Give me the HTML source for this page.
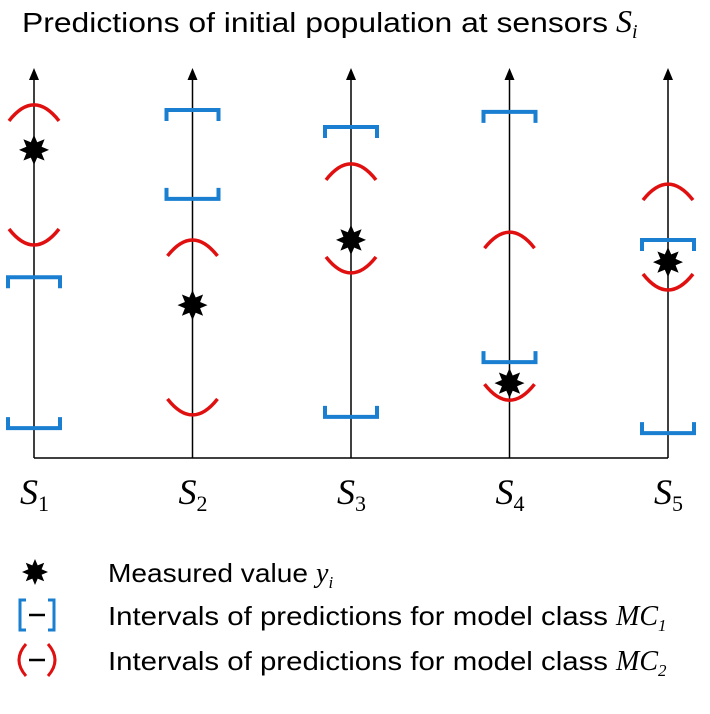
<!DOCTYPE html>
<html><head><meta charset="utf-8"><style>
body{margin:0;background:#fff;width:710px;height:714px;overflow:hidden}
svg{display:block}
.t{font-family:"Liberation Sans",sans-serif;fill:#000}
.m{font-family:"Liberation Serif",serif;font-style:italic;fill:#000}
</style></head><body>
<svg id="c" width="710" height="714">
<text class="t" x="22" y="32" font-size="28"><tspan textLength="586" lengthAdjust="spacingAndGlyphs">Predictions of initial population at sensors</tspan><tspan class="m" font-size="32" dx="8">S</tspan><tspan class="m" font-size="20" dy="6">i</tspan></text>
<g id="plot"></g>
<g>
 <g>
  <polygon id="lstar" fill="#000"/>
  <text class="t" x="108" y="582" font-size="26"><tspan textLength="200" lengthAdjust="spacingAndGlyphs">Measured value</tspan><tspan class="m" font-size="28" dx="8">y</tspan><tspan class="m" font-size="17" dy="6">i</tspan></text>
 </g>
 <g>
  <path d="M26,600 H20 V630 H26 M48,600 H54 V630 H48" stroke="#1a7fd0" stroke-width="3" fill="none"/>
  <line x1="29" y1="615" x2="45" y2="615" stroke="#000" stroke-width="2.5"/>
  <text class="t" x="108" y="625" font-size="26"><tspan textLength="500" lengthAdjust="spacingAndGlyphs">Intervals of predictions for model class</tspan><tspan class="m" font-size="28" dx="8">MC</tspan><tspan class="m" font-size="17" dy="6" font-style="normal">1</tspan></text>
 </g>
 <g>
  <path d="M26,644 Q12,660 26,676 M48,644 Q62,660 48,676" stroke="#e01010" stroke-width="3" fill="none"/>
  <line x1="29" y1="660" x2="45" y2="660" stroke="#000" stroke-width="2.5"/>
  <text class="t" x="108" y="670" font-size="26"><tspan textLength="500" lengthAdjust="spacingAndGlyphs">Intervals of predictions for model class</tspan><tspan class="m" font-size="28" dx="8">MC</tspan><tspan class="m" font-size="17" dy="6" font-style="normal">2</tspan></text>
 </g>
</g>
</svg>
<script>
const sensors=["1","2","3","4","5"];
const blueHi=[46.6,89.7,85.3,89.2,56.2];
const blueLo=[7.7,66.8,10.6,24.7,6.4];
const redHi=[91,56.2,75.8,58.2,70.6];
const redLo=[54.9,11.1,47.7,14.9,43.3];
const measured=[79.4,39.4,56.2,19.3,50.5];
const NS="http://www.w3.org/2000/svg";
const g=document.getElementById('plot');
const xS=i=>34+i*158.5;
const yS=v=>458-v*3.88;
function mk(t,a){const e=document.createElementNS(NS,t);for(const k in a)e.setAttribute(k,a[k]);g.appendChild(e);return e;}
function star(cx,cy,r){let p=[];for(let k=0;k<16;k++){const rr=k%2?r*0.55:r;const a=k*Math.PI/8;p.push((cx+rr*Math.sin(a)).toFixed(1)+","+(cy-rr*Math.cos(a)).toFixed(1));}return p.join(" ");}
document.getElementById('lstar').setAttribute('points',star(35,572,13));
let base=mk('line',{x1:xS(0),y1:458,x2:xS(4),y2:458,stroke:'#000','stroke-width':1.5});


sensors.forEach((s,i)=>{
 const x=xS(i);
 let ax=mk('line',{x1:x,y1:458,x2:x,y2:76,stroke:'#000','stroke-width':1.5});
 
 
 let ar=mk('polygon',{points:`${x-5},80 ${x+5},80 ${x},68`,fill:'#000'});
 
 
 let yh=yS(blueHi[i]),yl=yS(blueLo[i]);
 let b1=mk('path',{d:`M${x-26},${yh+11} V${yh} H${x+26} V${yh+11}`,stroke:'#1a7fd0','stroke-width':4,fill:'none'});
 
 
 let b2=mk('path',{d:`M${x-26},${yl-11} V${yl} H${x+26} V${yl-11}`,stroke:'#1a7fd0','stroke-width':4,fill:'none'});
 
 
 let rh=yS(redHi[i]),rl=yS(redLo[i]);
 let r1=mk('path',{d:`M${x-25},${rh+16} Q${x},${rh-16} ${x+25},${rh+16}`,stroke:'#e01010','stroke-width':3.5,fill:'none'});
 
 
 let r2=mk('path',{d:`M${x-25},${rl-16} Q${x},${rl+16} ${x+25},${rl-16}`,stroke:'#e01010','stroke-width':3.5,fill:'none'});
 
 
 let st=mk('polygon',{points:star(x,yS(measured[i]),15),fill:'#000'});
 
 
 let t=mk('text',{x:x-14,y:504,class:'m','font-size':36});
 t.innerHTML=`S<tspan font-size="22" dy="7" font-style="normal">${s}</tspan>`;
 
 
});
</script>
</body></html>
